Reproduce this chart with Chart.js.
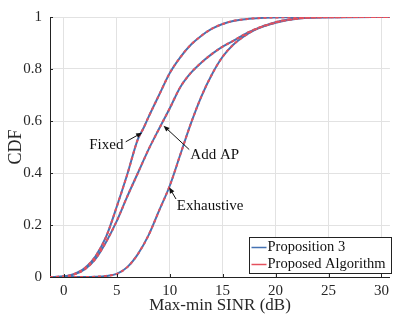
<!DOCTYPE html>
<html>
<head>
<meta charset="utf-8">
<script src="https://cdn.jsdelivr.net/npm/chart.js@4/dist/chart.umd.min.js"></script>
<style>
  html, body { margin:0; padding:0; background:#fff; }
  canvas { display:block; }
</style>
</head>
<body>
<canvas id="cdfChart" width="394" height="318"></canvas>
<script>
// values (SINR in dB, CDF 0..1)
const sinrFixed = [-1.3, 0, 1, 2, 3, 4, 5, 6, 7, 7.5, 8, 9, 10, 11, 12, 13, 14, 15, 16, 17.5, 19, 21, 24, 30.8];
const cdfFixed  = [0, 0.002, 0.012, 0.035, 0.08, 0.155, 0.27, 0.395, 0.53, 0.57, 0.615, 0.7, 0.784, 0.845, 0.893, 0.928, 0.955, 0.973, 0.985, 0.993, 0.997, 0.999, 1, 1];

const sinrAddAP = [-1.3, 0, 1, 2, 3, 4, 5, 6, 7, 8, 9, 10, 11, 12, 13, 14, 15, 16, 17.5, 20, 22.2, 25, 30.8];
const cdfAddAP  = [0, 0.002, 0.01, 0.03, 0.07, 0.135, 0.215, 0.31, 0.40, 0.49, 0.57, 0.648, 0.73, 0.785, 0.825, 0.858, 0.886, 0.908, 0.943, 0.98, 0.995, 0.999, 1];

const sinrExhaustive = [-1.3, 2, 3, 4, 5, 6, 7, 8, 9, 10, 11, 12, 13, 14, 15, 16, 17, 18, 20, 22.2, 25, 30.8];
const cdfExhaustive  = [0, 0, 0.001, 0.004, 0.012, 0.038, 0.088, 0.16, 0.255, 0.35, 0.47, 0.59, 0.695, 0.78, 0.847, 0.893, 0.925, 0.95, 0.978, 0.994, 0.999, 1];

const seriesNames = ['Proposition 3', 'Proposed Algorithm'];
const xTicks = [0, 5, 10, 15, 20, 25, 30];
const yTicks = [0, 0.2, 0.4, 0.6, 0.8, 1];

const BLUE = '#4572b3';
const RED = '#e4505d';
const FONT = "'Liberation Serif', 'DejaVu Serif', serif";
const INK = '#262626';

function pts(xs, ys){ return xs.map((x,i)=>({x, y: ys[i]})); }

const curves = [
  {name:'Fixed', xs: sinrFixed, ys: cdfFixed},
  {name:'Add AP', xs: sinrAddAP, ys: cdfAddAP},
  {name:'Exhaustive', xs: sinrExhaustive, ys: cdfExhaustive},
];

// blue solid underneath, red dashed on top
const datasets = [];
curves.forEach(c=>{
  datasets.push({ label: seriesNames[0], data: pts(c.xs, c.ys), borderColor: BLUE, borderWidth: 2, order: 2,
    showLine: true, pointRadius: 0, cubicInterpolationMode: 'monotone' });
  datasets.push({ label: seriesNames[1], data: pts(c.xs, c.ys), borderColor: RED, borderWidth: 2, order: 1,
    borderDash: [3,3], showLine: true, pointRadius: 0, cubicInterpolationMode: 'monotone' });
});

// annotation text + arrow, in data coordinates
const notes = [
  { text:'Fixed',      tx:5.63,  ty:0.509, align:'right', from:[5.85, 0.52],  to:[7.4, 0.555] },
  { text:'Add AP',     tx:11.95, ty:0.47,  align:'left',  from:[11.85, 0.49], to:[9.42, 0.582] },
  { text:'Exhaustive', tx:10.68, ty:0.273, align:'left',  from:[10.6, 0.30],  to:[9.95, 0.345] },
];

function arrow(ctx, x1, y1, x2, y2){
  const a = Math.atan2(y2-y1, x2-x1), L = 6, W = 2.5;
  ctx.beginPath(); ctx.moveTo(x1,y1); ctx.lineTo(x2 - L*0.6*Math.cos(a), y2 - L*0.6*Math.sin(a)); ctx.stroke();
  ctx.beginPath();
  ctx.moveTo(x2, y2);
  ctx.lineTo(x2 - L*Math.cos(a) + W*Math.sin(a), y2 - L*Math.sin(a) - W*Math.cos(a));
  ctx.lineTo(x2 - L*Math.cos(a) - W*Math.sin(a), y2 - L*Math.sin(a) + W*Math.cos(a));
  ctx.closePath(); ctx.fill();
}

const extras = {
  id: 'extras',
  afterDraw(chart){
    const {ctx, chartArea:a, scales:{x, y}} = chart;
    ctx.save();
    // inward ticks
    ctx.strokeStyle = INK; ctx.lineWidth = 1;
    ctx.beginPath();
    xTicks.forEach(v=>{ const px = Math.round(x.getPixelForValue(v))+0.5; ctx.moveTo(px, a.bottom); ctx.lineTo(px, a.bottom-3); });
    yTicks.forEach(v=>{ const py = Math.round(y.getPixelForValue(v))+0.5; ctx.moveTo(a.left, py); ctx.lineTo(a.left+3, py); });
    ctx.stroke();

    // annotations
    ctx.font = '15px ' + FONT; ctx.fillStyle = '#111'; ctx.strokeStyle = '#111'; ctx.lineWidth = 1;
    ctx.textBaseline = 'middle';
    notes.forEach(n=>{
      ctx.textAlign = n.align;
      ctx.fillText(n.text, x.getPixelForValue(n.tx), y.getPixelForValue(n.ty));
      arrow(ctx, x.getPixelForValue(n.from[0]), y.getPixelForValue(n.from[1]),
                 x.getPixelForValue(n.to[0]), y.getPixelForValue(n.to[1]));
    });

    // legend box, lower right inside the axes
    const bx = 249.5, by = 237.5, bw = 142, bh = 36;
    ctx.font = '14.5px ' + FONT;
    ctx.fillStyle = '#fff'; ctx.fillRect(bx, by, bw, bh);
    ctx.strokeStyle = '#222'; ctx.lineWidth = 1; ctx.strokeRect(bx, by, bw, bh);
    [BLUE, RED].forEach((col, i)=>{
      const ry = by + 10 + i*17;
      ctx.strokeStyle = col; ctx.lineWidth = 1.5;
      ctx.beginPath(); ctx.moveTo(bx+2, ry); ctx.lineTo(bx+17, ry); ctx.stroke();
      ctx.fillStyle = '#111'; ctx.textAlign = 'left'; ctx.textBaseline = 'middle';
      ctx.fillText(seriesNames[i], bx+18, ry);
    });
    ctx.restore();
  }
};

new Chart(document.getElementById('cdfChart'), {
  type: 'scatter',
  data: { datasets },
  plugins: [extras],
  options: {
    responsive: false,
    devicePixelRatio: 1,
    animation: false,
    layout: { padding: { top: 13, right: 2, left: 0, bottom: 0 } },
    plugins: { legend: { display: false }, tooltip: { enabled: false } },
    scales: {
      x: {
        type: 'linear', min: -1.3, max: 30.8,
        afterFit(s){ s.height = 41; },
        ticks: { stepSize: 5, includeBounds: false, padding: 5, color: INK, font: { family: FONT, size: 15 },
                 callback: v => String(v) },
        grid: { color: '#e2e2e2', drawTicks: false },
        border: { color: '#222', width: 1 },
        title: { display: true, text: 'Max-min SINR (dB)', color: INK, font: { family: FONT, size: 17 },
                 padding: { top: 0, bottom: 2 } }
      },
      y: {
        min: 0, max: 1,
        afterFit(s){ s.width = 50; },
        ticks: { stepSize: 0.2, padding: 8, color: INK, font: { family: FONT, size: 15 },
                 callback: v => String(Math.round(v*10)/10) },
        grid: { color: '#e2e2e2', drawTicks: false },
        border: { color: '#222', width: 1 },
        title: { display: true, text: 'CDF', color: INK, font: { family: FONT, size: 18 },
                 padding: { top: 5, bottom: 0 } }
      }
    }
  }
});
</script>
</body>
</html>
